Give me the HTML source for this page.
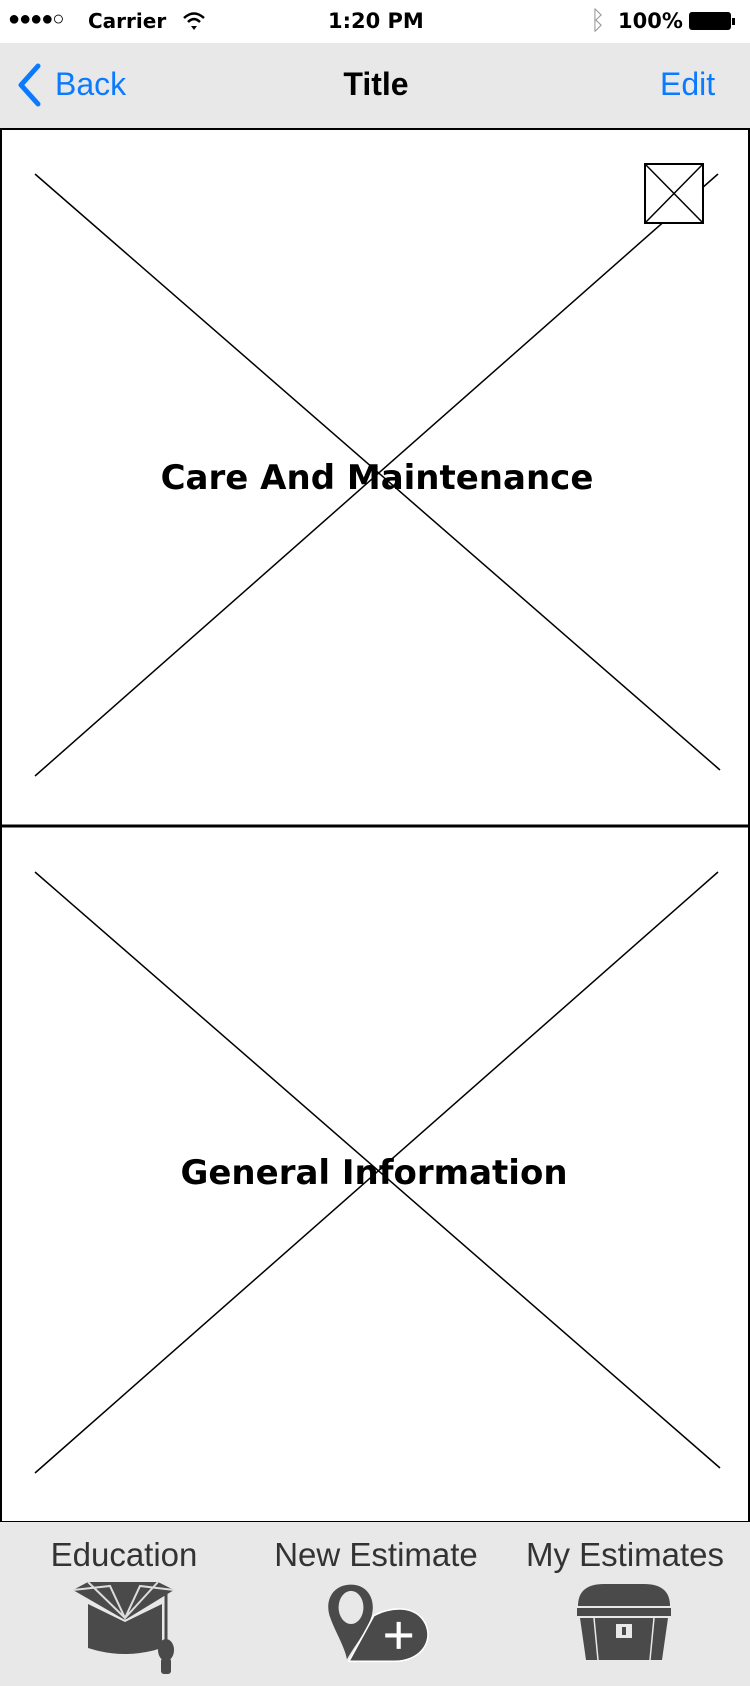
<!DOCTYPE html>
<html><head><meta charset="utf-8"><style>
html,body{margin:0;padding:0}
body{width:750px;height:1686px;position:relative;background:#fff;overflow:hidden;font-family:"Liberation Sans",sans-serif}
.abs{position:absolute}
.status{top:0;left:0;width:750px;height:43px;background:#fff}
.nav{top:43px;left:0;width:750px;height:85px;background:#e8e8e8}
.tab{top:1522px;left:0;width:750px;height:164px;background:#e8e8e8}
.t{position:absolute;white-space:nowrap}
.lbl{font-family:"DejaVu Sans",sans-serif;font-weight:bold;font-size:34px;color:#000;transform:translateX(-50%);white-space:nowrap;position:absolute}
.tl{font-size:33px;color:#333;transform:translateX(-50%);position:absolute;white-space:nowrap}
</style></head><body>
<div class="abs status">
  <div class="t" style="left:8px;top:8px;font-size:20px;letter-spacing:-1px">●●●●○</div>
  <div class="t" style="left:88px;top:9px;font-size:20px;font-weight:bold;font-family:'DejaVu Sans',sans-serif">Carrier</div>
  <svg class="abs" style="left:182px;top:11px" width="24" height="20" viewBox="0 0 24 20"><path d="M2 7 Q12 -2 22 7" stroke="#000" stroke-width="2.5" fill="none"/><path d="M6 11 Q12 5 18 11" stroke="#000" stroke-width="2.5" fill="none"/><path d="M9 15 L12 19 L15 15 Z" fill="#000"/></svg>
  <div class="t" style="left:328px;top:9px;font-size:21px;font-weight:bold;font-family:'DejaVu Sans',sans-serif">1:20 PM</div>
  <div class="t" style="left:590px;top:5px;font-size:26px;color:#999">ᛒ</div>
  <div class="t" style="left:618px;top:9px;font-size:21px;font-weight:bold;font-family:'DejaVu Sans',sans-serif">100%</div>
  <div class="abs" style="left:689px;top:12px;width:42px;height:18px;border:2px solid #000;border-radius:3px;background:#000;box-sizing:border-box"></div>
  <div class="abs" style="left:732px;top:18px;width:3px;height:7px;background:#000"></div>
</div>
<div class="abs nav">
  <svg class="abs" style="left:16px;top:20px" width="26" height="44" viewBox="0 0 26 44"><path d="M22 3 L5 22 L22 41" stroke="#0a7aff" stroke-width="5" fill="none" stroke-linecap="round" stroke-linejoin="round"/></svg>
  <div class="t" style="left:55px;top:23px;font-size:32px;color:#0a7aff">Back</div>
  <div class="t" style="left:376px;top:23px;font-size:32px;font-weight:bold;transform:translateX(-50%)">Title</div>
  <div class="t" style="left:660px;top:23px;font-size:32px;color:#0a7aff">Edit</div>
</div>
<svg class="abs" style="left:0;top:0" width="750" height="1686">
  <rect x="1" y="129" width="748" height="1393" fill="none" stroke="#000" stroke-width="2"/>
  <line x1="0" y1="826" x2="750" y2="826" stroke="#000" stroke-width="3"/>
  <line x1="35" y1="174" x2="720" y2="770" stroke="#000" stroke-width="1.5"/>
  <line x1="35" y1="776" x2="718" y2="174" stroke="#000" stroke-width="1.5"/>
  <rect x="645" y="164" width="58" height="59" fill="#fff" stroke="#000" stroke-width="2"/>
  <line x1="645" y1="164" x2="703" y2="223" stroke="#000" stroke-width="1.5"/>
  <line x1="645" y1="223" x2="703" y2="164" stroke="#000" stroke-width="1.5"/>
  <line x1="35" y1="872" x2="720" y2="1468" stroke="#000" stroke-width="1.5"/>
  <line x1="35" y1="1473" x2="718" y2="872" stroke="#000" stroke-width="1.5"/>
</svg>
<div class="lbl" style="left:377px;top:458px">Care And Maintenance</div>
<div class="lbl" style="left:374px;top:1153px">General Information</div>
<div class="abs tab">
  <div class="tl" style="left:124px;top:14px">Education</div>
  <div class="tl" style="left:376px;top:14px">New Estimate</div>
  <div class="tl" style="left:625px;top:14px">My Estimates</div>
  <svg class="abs" style="left:70px;top:58px" width="110" height="96" viewBox="0 0 110 96">
    <path d="M3 10 L18 2 L88 2 L104 10 L55 40 Z" fill="#4a4a4a"/>
    <path d="M18 2 L55 38 L88 2 M3 10 L40 6 L55 38 L70 6 L104 10" stroke="#ddd" stroke-width="2" fill="none"/>
    <path d="M18 24 L55 42 L92 24 L92 68 Q55 80 18 68 Z" fill="#4a4a4a"/>
    <line x1="96" y1="12" x2="96" y2="62" stroke="#4a4a4a" stroke-width="3"/>
    <ellipse cx="96" cy="70" rx="8" ry="11" fill="#4a4a4a"/>
    <rect x="91" y="78" width="10" height="16" rx="3" fill="#4a4a4a"/>
  </svg>
  <svg class="abs" style="left:322px;top:62px" width="114" height="80" viewBox="0 0 110 76">
    <path d="M28 0 C10 0 2 16 8 32 C12 44 22 60 24 72 C32 58 44 44 48 30 C52 14 44 0 28 0 Z" fill="#4a4a4a"/>
    <ellipse cx="28" cy="22" rx="12" ry="16" fill="#e8e8e8"/>
    <path d="M26 74 L50 30 C64 22 90 18 100 38 C108 56 94 74 70 74 Z" fill="#4a4a4a" stroke="#fff" stroke-width="1.5"/>
    <path d="M74 36 L74 62 M61 49 L87 49" stroke="#fff" stroke-width="4"/>
  </svg>
  <svg class="abs" style="left:574px;top:60px" width="100" height="80" viewBox="0 0 100 80">
    <path d="M4 24 Q4 2 30 2 L70 2 Q96 2 96 24 Z" fill="#4a4a4a"/>
    <rect x="3" y="26" width="94" height="8" fill="#4a4a4a"/>
    <path d="M6 36 L94 36 L88 78 L12 78 Z" fill="#4a4a4a"/>
    <path d="M20 36 L24 78 M80 36 L76 78" stroke="#e8e8e8" stroke-width="1.5"/>
    <rect x="42" y="42" width="16" height="14" fill="#e8e8e8"/>
    <rect x="48" y="45" width="4" height="8" fill="#4a4a4a"/>
  </svg>
</div>
</body></html>
